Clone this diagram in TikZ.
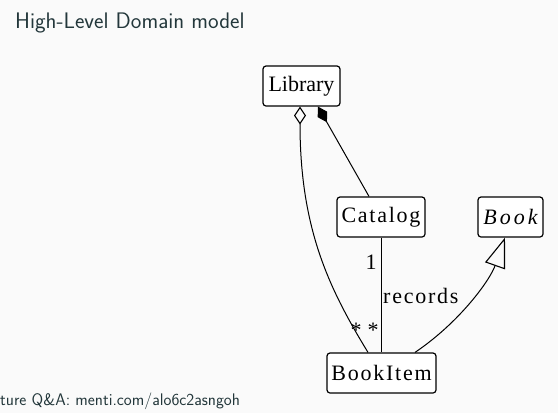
\documentclass[tikz,border=0pt]{standalone}
\usepackage{fontspec}
\usetikzlibrary{arrows.meta,calc}
\newfontfamily\umlfont{Liberation Serif}
\newfontfamily\umlspaced[LetterSpace=8]{Liberation Serif}
\newfontfamily\umlwide[LetterSpace=14]{Liberation Serif}
\definecolor{bgc}{HTML}{FAFAFA}
\definecolor{txtc}{HTML}{23373B}
\begin{document}
\begin{tikzpicture}[x=1pt,y=-1pt,
  cls/.style={draw=black, line width=1.2pt, rounded corners=3pt, fill=white,
    minimum height=40pt, inner sep=0pt},
  conn/.style={draw=black, line width=1pt},
  lbl/.style={inner sep=0pt, font=\umlspaced\fontsize{22}{26}\selectfont}
]
\fill[bgc] (0,0) rectangle (558,413);
\useasboundingbox (0,0) rectangle (558,413);

\node[anchor=base west, text=txtc, font=\sffamily\fontsize{22.5}{27}\selectfont, inner sep=0pt] (title) at (15,28) {High-Level Domain model};
\node[anchor=base west, text=txtc, font=\sffamily\fontsize{16.8}{20}\selectfont, inner sep=0pt] (foot) at (0,405) {ture Q\&A: menti.com/alo6c2asngoh};

\node[cls, minimum width=77pt, font=\umlfont\fontsize{22}{26}\selectfont] (lib) at (301.5,86) {Library};
\node[cls, minimum width=88pt, font=\umlspaced\fontsize{22}{26}\selectfont] (cat) at (381,217) {Catalog};
\node[cls, minimum width=65pt, font=\umlwide\itshape\fontsize{22}{26}\selectfont] (book) at (510.5,217) {Book};
\node[cls, minimum width=109pt, font=\umlspaced\fontsize{22}{26}\selectfont] (bi) at (381.5,373) {BookItem};

% composition Library -- Catalog
\coordinate (libc) at ($(lib.south)+(16.5,0)$);
\coordinate (catl) at ($(cat.north)+(-12,0)$);
\draw[conn, -{Diamond[length=18pt,width=11pt]}] (catl) -- (libc);

% aggregation Library -- BookItem
\coordinate (liba) at ($(lib.south)+(-1.5,0)$);
\coordinate (bia) at ($(bi.north)+(-13.5,0)$);
\draw[conn, {Diamond[open,length=18pt,width=12pt,line width=1.1pt]}-] (liba) .. controls (300,230) and (330,290) .. (bia);

% Catalog -- BookItem records
\coordinate (bir) at (cat.south |- bi.north);
\draw[conn] (cat.south) -- (bir);

% generalization BookItem -- Book
\coordinate (big) at ($(bi.north)+(33.5,0)$);
\coordinate (bookg) at ($(book.south)+(-5.5,0)$);
\draw[conn, -{Triangle[open,length=30pt,width=21pt,line width=1.1pt]}] (big) .. controls (460,322) and (490,280) .. (bookg);

\node[lbl] (one) at (371,262) {1};
\node[lbl, anchor=west] (rec) at (383,296) {records};
\node[lbl] (st1) at (373,330) {*};
\node[lbl] (st2) at (356,330) {*};
\end{tikzpicture}
\end{document}
